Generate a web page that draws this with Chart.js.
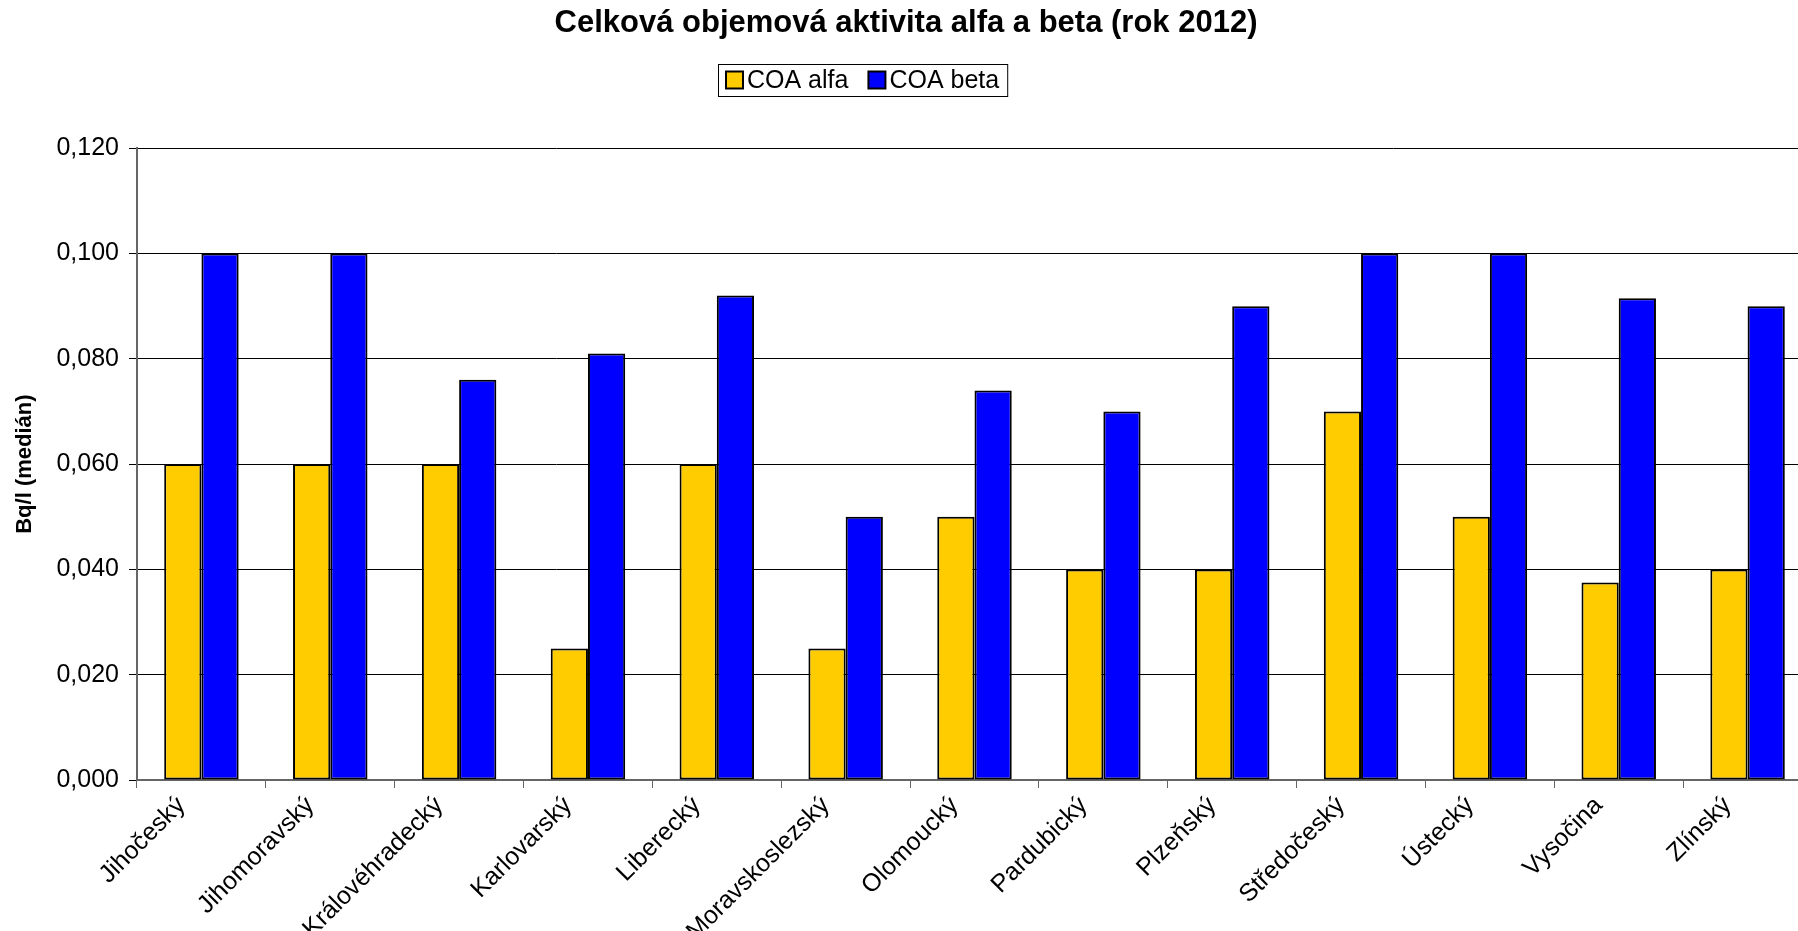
<!DOCTYPE html>
<html>
<head>
<meta charset="utf-8">
<title>COA alfa a beta 2012</title>
<script src="https://cdn.jsdelivr.net/npm/chart.js@4.4.1/dist/chart.umd.min.js"></script>
<style>
  html, body { margin: 0; padding: 0; background: #fff; overflow: hidden; }
  #wrap { width: 1798px; height: 931px; overflow: hidden; }
</style>
</head>
<body>
<div id="wrap"><canvas id="coaChart" width="1814" height="931"></canvas></div>
<script>
const kraje = ['Jihočeský', 'Jihomoravský', 'Královéhradecký', 'Karlovarský', 'Liberecký',
    'Moravskoslezský', 'Olomoucký', 'Pardubický', 'Plzeňský', 'Středočeský',
    'Ústecký', 'Vysočina', 'Zlínský'];
const coaAlfa = [0.060, 0.060, 0.060, 0.025, 0.060, 0.025, 0.050, 0.040, 0.040, 0.070, 0.050, 0.0375, 0.040];
const coaBeta = [0.100, 0.100, 0.076, 0.081, 0.092, 0.050, 0.074, 0.070, 0.090, 0.100, 0.100, 0.0915, 0.090];
const yTickLabels = ['0,000', '0,020', '0,040', '0,060', '0,080', '0,100', '0,120'];

const FONT = "'Liberation Sans', Arial, sans-serif";
Chart.defaults.font.family = FONT;
Chart.defaults.color = '#000';

// legenda v rámečku
const boxLegend = {
    id: 'boxLegend',
    afterDraw(chart, args, opts) {
        const ctx = chart.ctx;
        ctx.save();
        ctx.font = opts.font;
        const items = chart.data.datasets.map(ds => ({
            text: ds.label,
            color: ds.backgroundColor,
            w: ctx.measureText(ds.label).width
        }));
        const sw = 17, gap = 4, itemGap = 20, pad = 8;
        const total = pad * 2 + items.reduce((s, it) => s + sw + gap + it.w, 0) + itemGap * (items.length - 1);
        const x = Math.round(opts.centerX - total / 2);
        const top = opts.top, h = opts.height;
        ctx.fillStyle = '#fff';
        ctx.fillRect(x, top, total, h);
        ctx.strokeStyle = '#000';
        ctx.lineWidth = 1;
        ctx.strokeRect(x + 0.5, top + 0.5, total, h);
        let cx = x + pad;
        const midY = top + h / 2;
        items.forEach(it => {
            ctx.fillStyle = it.color;
            ctx.fillRect(cx, midY - sw / 2, sw, sw);
            ctx.strokeStyle = '#000';
            ctx.lineWidth = 2;
            ctx.strokeRect(cx, midY - sw / 2, sw, sw);
            cx += sw + gap;
            ctx.fillStyle = '#000';
            ctx.textBaseline = 'middle';
            ctx.fillText(it.text, cx, midY + 1);
            cx += it.w + itemGap;
        });
        ctx.restore();
    }
};

const data = {
    labels: kraje,
    datasets: [{
        label: 'COA alfa',
        data: coaAlfa,
        backgroundColor: '#FFCC00',
        borderColor: '#000',
        borderWidth: 2,
        borderSkipped: false
    }, {
        label: 'COA beta',
        data: coaBeta,
        backgroundColor: '#0000FF',
        borderColor: '#000',
        borderWidth: 2,
        borderSkipped: false
    }]
};

const config = {
    type: 'bar',
    data: data,
    plugins: [boxLegend],
    options: {
        responsive: false,
        animation: false,
        layout: { padding: { left: 0, right: 2, top: 0, bottom: 0 } },
        datasets: {
            bar: { categoryPercentage: 0.578, barPercentage: 1 }
        },
        scales: {
            x: {
                afterFit: function(scale) { scale.height = 151; },
                grid: {
                    offset: true,
                    drawOnChartArea: false,
                    drawTicks: true,
                    tickLength: 8,
                    color: '#666'
                },
                border: { display: true, color: '#666', width: 2 },
                ticks: {
                    autoSkip: false,
                    maxRotation: 45,
                    minRotation: 45,
                    padding: 3,
                    labelOffset: -20,
                    font: { size: 25 }
                }
            },
            y: {
                min: 0,
                max: 0.12,
                afterFit: function(scale) { scale.width = 137; },
                grid: {
                    color: '#000',
                    lineWidth: 1,
                    tickLength: 8
                },
                border: { display: true, color: '#666', width: 2 },
                ticks: {
                    stepSize: 0.02,
                    padding: 10,
                    font: { size: 25 },
                    callback: function(value, index) { return yTickLabels[index]; }
                },
                title: {
                    display: true,
                    text: 'Bq/l (medián)',
                    font: { size: 22, weight: 'bold' },
                    padding: { top: 12, bottom: 0 }
                }
            }
        },
        plugins: {
            legend: { display: false },
            tooltip: { enabled: false },
            title: {
                display: true,
                text: 'Celková objemová aktivita alfa a beta (rok 2012)',
                font: { size: 31, weight: 'bold' },
                padding: { top: 5, bottom: 106 }
            },
            boxLegend: {
                font: '25px ' + FONT,
                centerX: 863,
                top: 64,
                height: 32
            }
        }
    }
};

const ctx = document.getElementById('coaChart').getContext('2d');
new Chart(ctx, config);
</script>
</body>
</html>
